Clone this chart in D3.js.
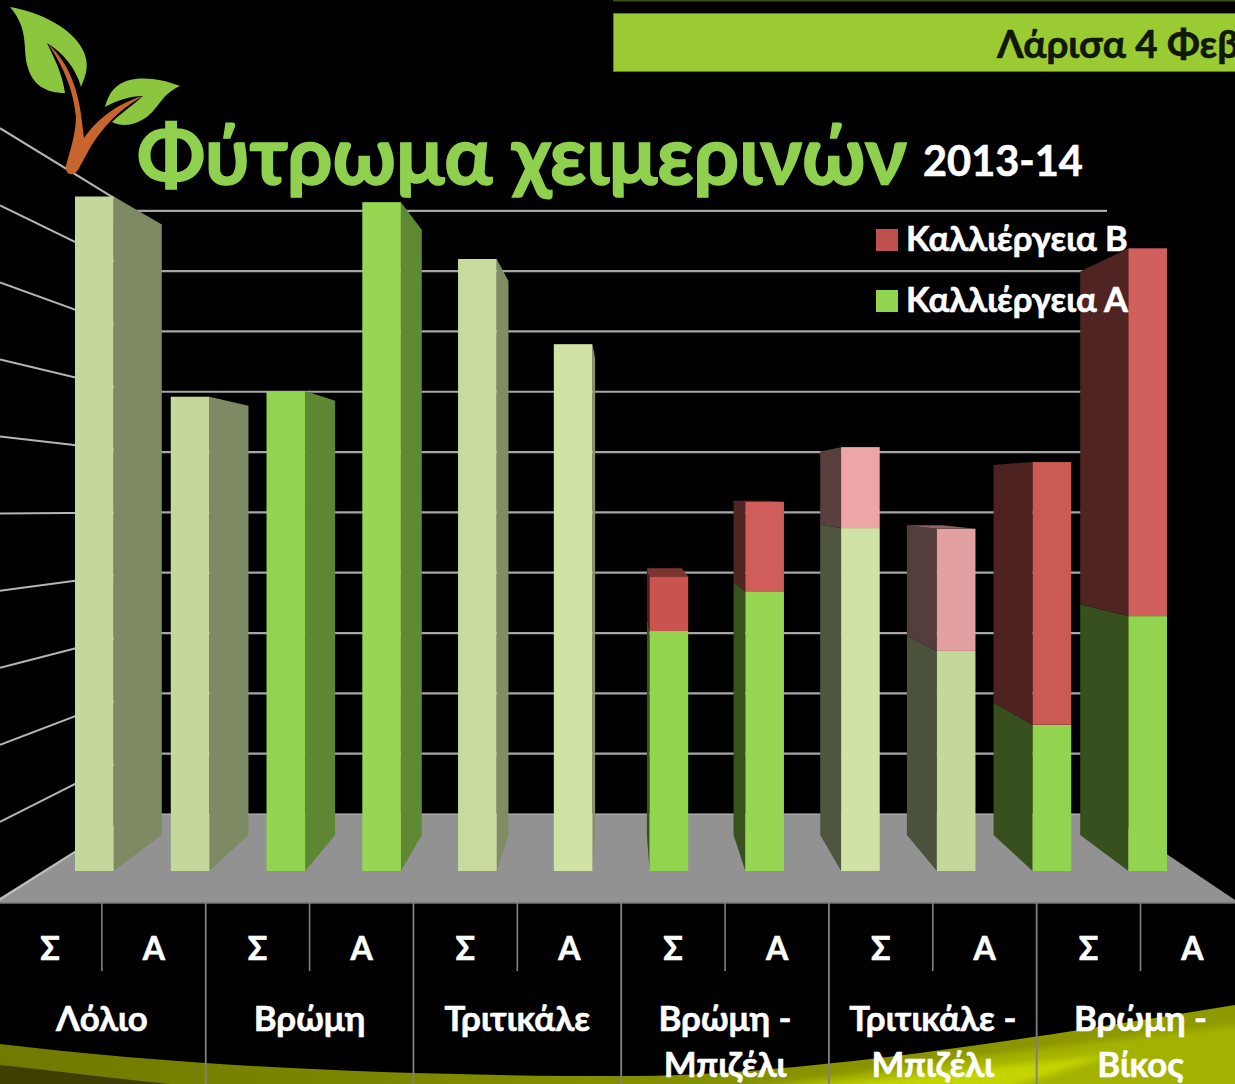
<!DOCTYPE html>
<html><head><meta charset="utf-8">
<script src="https://cdn.jsdelivr.net/npm/d3@7"></script>
<style>html,body{margin:0;padding:0;background:#000;overflow:hidden}svg{display:block}text{font-family:Lato,"Open Sans","Noto Sans",sans-serif;paint-order:stroke}</style>
</head><body>
<script>
const groups=[["Λόλιο"],["Βρώμη"],["Τριτικάλε"],["Βρώμη -","Μπιζέλι"],["Τριτικάλε -","Μπιζέλι"],["Βρώμη -","Βίκος"]];
const subLabels=["Σ","Α"];
const barIds=d3.range(12);
const seriesA=[95,66.8,67.6,94.2,86.2,74.2,33.8,39.4,48.3,31,20.6,35.9];
const seriesB=[0,0,0,0,0,0,7.7,12.6,11.4,17.2,37,51.8];
const colorsA=["#c5d89b","#c5d89b","#92d34f","#96d652","#c8da9d","#d0e2a4","#93d44f","#96d652","#d1e2a6","#c5d89b","#92d34f","#92d34f"];
const colorsB=["#c9544f","#c9544f","#c9544f","#c9544f","#c9544f","#c9544f","#c9544f","#cf5e5a","#eda5a5","#e3a0a0","#cb5954","#d15f5b"];
const gridTicks=d3.range(0,101,10);
const legendItems=[["Καλλιέργεια Β","#c0504d"],["Καλλιέργεια Α","#92d34f"]];

const W=1235,H=1084;
const svg=d3.select("body").append("svg").attr("width",W).attr("height",H);
svg.append("rect").attr("width",W).attr("height",H).attr("fill","#000");
const defs=svg.append("defs");

// scales
const x=d3.scaleBand().domain(barIds).range([75,1167]).paddingInner(0.597).paddingOuter(0);
const y=d3.scaleLinear().domain([0,100]).range([871,161]);
const groupX=d3.scaleBand().domain(d3.range(6)).range([-2,1244.4]);
const VP=[621,492], barDepth=0.905;
const proj=(px,py,s,vp=VP)=>[vp[0]+(px-vp[0])*s,vp[1]+(py-vp[1])*s];
const poly=p=>p.map(q=>q.join(",")).join(" ");

// bottom swoosh
const sw=svg.append("g");
const blur=defs.append("filter").attr("id","soft").attr("x","-5%").attr("y","-20%").attr("width","110%").attr("height","140%");
blur.append("feGaussianBlur").attr("stdDeviation",3);
const g0=defs.append("linearGradient").attr("id","sw").attr("x1",0).attr("x2",1);
[[0,"#6f7a00"],[.5,"#848f00"],[1,"#8f9a00"]].forEach(s=>g0.append("stop").attr("offset",s[0]).attr("stop-color",s[1]));
sw.append("path").attr("fill","url(#sw)").attr("d","M0,1044 C200,1068 420,1076 620,1076 C800,1076 1020,1040 1235,1005 L1235,1084 L0,1084 Z");
sw.append("path").attr("fill","#3f3f02").attr("d","M0,1065 C50,1070 110,1078 170,1084 L0,1084 Z");
sw.append("path").attr("fill","#a3b200").attr("filter","url(#soft)").attr("d","M740,1090 C860,1072 1060,1045 1240,1025 L1240,1090 Z");
sw.append("path").attr("fill","#c4d400").attr("filter","url(#soft)").attr("d","M780,1090 C880,1080 990,1066 1110,1055 C1070,1070 1030,1080 1000,1090 Z");

// top banner
svg.append("rect").attr("x",613).attr("y",0).attr("width",622).attr("height",1.5).attr("fill","#3d4f10");
svg.append("rect").attr("x",613.5).attr("y",13.5).attr("width",622).attr("height",58).attr("fill","#9bcb33").attr("stroke","#5f7d1e");
svg.append("text").attr("x",997).attr("y",58).attr("font-size",38.5).attr("font-weight",700).attr("fill","#10180a").attr("stroke","#10180a").attr("stroke-width",.6).text("Λάρισα 4 Φεβ");

// walls: gridlines
const wallS=322/379, wallVP=[621,508], backL=135, backR=1107, ext=621/486;
const gy=v=>VP[1]+(y(v)-VP[1])*wallS;
const gl=svg.append("g");
gl.selectAll("line.b").data(gridTicks.slice(1)).join("line").attr("class","b")
 .attr("x1",backL).attr("x2",backR).attr("y1",gy).attr("y2",gy).attr("stroke","#a6a6a6").attr("stroke-width",2.2);
gl.selectAll("line.l").data(gridTicks).join("line").attr("class","l")
 .attr("x1",backL).attr("y1",gy).attr("x2",0).attr("y2",v=>wallVP[1]+(gy(v)-wallVP[1])*ext)
 .attr("stroke","#b5b5b5").attr("stroke-width",2);

// floor
svg.append("polygon").attr("fill","#929292").attr("points",poly([[0,900],[backL,gy(0)],[backR,gy(0)],[1235,900],[1235,903],[0,903]]));
svg.append("line").attr("x1",backL).attr("x2",backR).attr("y1",gy(0)).attr("y2",gy(0)).attr("stroke","#bdbdbd").attr("stroke-width",1.2);
svg.append("line").attr("x1",0).attr("x2",backL).attr("y1",900).attr("y2",gy(0)).attr("stroke","#c4c4c4").attr("stroke-width",1.2);
svg.append("line").attr("x1",0).attr("x2",1235).attr("y1",903).attr("y2",903).attr("stroke","#777").attr("stroke-width",1.5);

// bars
const shade=(c,t)=>d3.interpolateRgb(c,"#000")(t);
const bars=svg.append("g");
barIds.forEach(i=>{
  const l=x(i), r=l+x.bandwidth();
  const segs=[{a:0,b:seriesA[i],c:colorsA[i]}];
  if(seriesB[i]>0) segs.push({a:seriesA[i],b:seriesA[i]+seriesB[i],c:colorsB[i]});
  const leftSide=(l+r)/2<VP[0];
  const sideX=leftSide?r:l;
  const sideT=leftSide?0.36:0.62;
  segs.forEach((s,j)=>{
    const y0=y(s.a), y1=y(s.b);
    bars.append("polygon").attr("fill",shade(s.c,sideT))
      .attr("points",poly([[sideX,y0],[sideX,y1],proj(sideX,y1,barDepth),proj(sideX,y0,barDepth)]));
    bars.append("rect").attr("x",l).attr("y",y1).attr("width",x.bandwidth()).attr("height",y0-y1).attr("fill",s.c);
    if(j===segs.length-1 && y1>VP[1]){
      bars.append("polygon").attr("fill",shade(s.c,0.38))
        .attr("points",poly([[l,y1],[r,y1],proj(r,y1,barDepth),proj(l,y1,barDepth)]));
    }
  });
});

// separators + axis labels
const ax=svg.append("g");
groups.forEach((g,i)=>{
  const gx=groupX(i), bw=groupX.bandwidth();
  if(i>0) ax.append("line").attr("x1",gx).attr("x2",gx).attr("y1",903).attr("y2",H).attr("stroke","#808080").attr("stroke-width",1.8);
  ax.append("line").attr("x1",gx+bw/2).attr("x2",gx+bw/2).attr("y1",903).attr("y2",971).attr("stroke","#808080").attr("stroke-width",1.6);
  subLabels.forEach((t,k)=>ax.append("text").attr("x",gx+bw*(k*2+1)/4).attr("y",960).attr("text-anchor","middle")
    .attr("font-size",32).attr("font-weight",700).attr("fill","#fff").attr("stroke","#fff").attr("stroke-width",.6).text(t));
  g.forEach((t,k)=>ax.append("text").attr("x",gx+bw/2).attr("y",1031+k*46).attr("text-anchor","middle")
    .attr("font-size",34.8).attr("font-weight",700).attr("fill","#fff").attr("stroke","#fff").attr("stroke-width",.6).text(t));
});

// titles
svg.append("text").attr("x",137).attr("y",184).attr("font-size",80).attr("font-weight",700).attr("fill","#8fd14f").attr("stroke","#8fd14f").attr("stroke-width",1.6).text("Φύτρωμα χειμερινών");
svg.append("text").attr("x",923).attr("y",176).attr("font-size",41.5).attr("font-weight",700).attr("fill","#fff").attr("stroke","#fff").attr("stroke-width",.6).text("2013-14");

// legend
legendItems.forEach((d,i)=>{
  svg.append("rect").attr("x",876).attr("y",229+i*61).attr("width",22).attr("height",22).attr("fill",d[1]);
  svg.append("text").attr("x",906).attr("y",251+i*61).attr("font-size",34.5).attr("font-weight",700).attr("fill","#fff").attr("stroke","#fff").attr("stroke-width",.6).text(d[0]);
});

// logo
const logo=svg.append("g");
logo.append("path").attr("fill","#8cc63f").attr("d","M10,7 C40,12 72,28 83,50 C90,65 86,75 81,87 C76,68 62,52 47,43 C54,58 62,72 65,93 C46,93 33,85 28,68 C22,50 30,30 10,7 Z");
logo.append("path").attr("fill","#8cc63f").attr("d","M180,86 C160,78 135,75 120,84 C110,90 107,100 105,107 C118,100 130,96 143,96 C132,106 120,114 112,122 C122,127 135,126 148,116 C160,106 162,94 180,86 Z");
logo.append("path").attr("fill","#c8652e").attr("d","M48,44 C64,58 78,82 82,122 L84,138 C95,122 115,104 143,96 C118,110 102,128 90,148 L78,170 C73,177 65,175 66,166 C70,150 75,138 76,118 C74,90 62,64 48,44 Z");
</script>
</body></html>
